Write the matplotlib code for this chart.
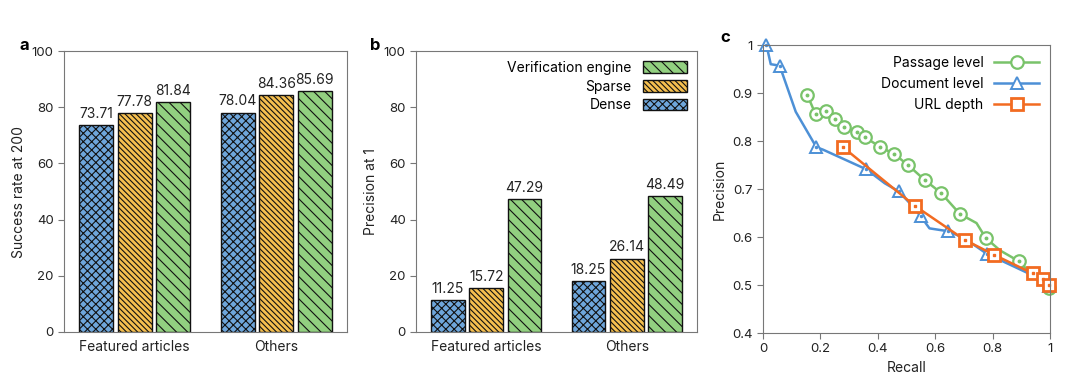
import numpy as np
import matplotlib.pyplot as plt
import matplotlib as mpl

plt.rcParams['font.family'] = ['Inter', 'DejaVu Sans']
plt.rcParams['hatch.linewidth'] = 0.8
plt.rcParams['hatch.color'] = '#222222'

# data
groups = ["Featured articles", "Others"]
methods = ["Dense", "Sparse", "Verification engine"]
success_200 = {"Dense": [73.71, 78.04], "Sparse": [77.78, 84.36], "Verification engine": [81.84, 85.69]}
precision_1 = {"Dense": [11.25, 18.25], "Sparse": [15.72, 26.14], "Verification engine": [47.29, 48.49]}

passage_recall = [0.155, 0.183, 0.219, 0.25, 0.283, 0.326, 0.355, 0.407, 0.457, 0.505, 0.565, 0.62, 0.686, 0.744, 0.776, 0.826, 0.893, 0.948, 0.998]
passage_prec = [0.895, 0.856, 0.863, 0.845, 0.830, 0.818, 0.808, 0.788, 0.773, 0.750, 0.718, 0.692, 0.648, 0.629, 0.598, 0.572, 0.549, 0.514, 0.494]
passage_marks = [0, 1, 2, 3, 4, 5, 6, 7, 8, 9, 10, 11, 12, 14, 16, 18]

doc_recall = [0.012, 0.027, 0.058, 0.114, 0.186, 0.209, 0.36, 0.424, 0.473, 0.523, 0.55, 0.58, 0.645, 0.70, 0.78, 0.94, 0.998]
doc_prec = [1.0, 0.96, 0.957, 0.861, 0.787, 0.782, 0.741, 0.712, 0.695, 0.663, 0.643, 0.618, 0.612, 0.598, 0.565, 0.52, 0.497]
doc_marks = [0, 2, 4, 6, 8, 10, 12, 14, 16]

url_recall = [0.279, 0.529, 0.703, 0.805, 0.94, 0.977, 0.998]
url_prec = [0.787, 0.665, 0.594, 0.563, 0.524, 0.512, 0.499]

colors = {"Dense": "#6ea6db", "Sparse": "#f5bf4f", "Verification engine": "#92d080"}
hatches = {"Dense": "xxxx", "Sparse": "\\\\\\\\\\\\", "Verification engine": "\\\\\\"}

fig = plt.figure(figsize=(10.8, 3.78), dpi=100)
ax_a = fig.add_axes([64/1080, 1-332/378, 283/1080, 281/378])
ax_b = fig.add_axes([416/1080, 1-332/378, 281/1080, 281/378])
ax_c = fig.add_axes([763/1080, 1-333/378, 287/1080, 288/378])

x = np.arange(len(groups))
w = 0.24
step = 0.273


def bar_panel(ax, data, ylabel):
    for i, m in enumerate(methods):
        vals = data[m]
        bars = ax.bar(x + (i - 1) * step, vals, width=w, color=colors[m],
                      edgecolor='#111111', linewidth=1.0, hatch=hatches[m], label=m)
        for b, v in zip(bars, vals):
            ax.text(b.get_x() + b.get_width() / 2, v + 1.5, "%.2f" % v,
                    ha='center', va='bottom', fontsize=10, color='#222222')
    ax.set_xlim(-0.5, 1.5)
    ax.set_ylim(0, 100)
    ax.set_yticks([0, 20, 40, 60, 80, 100])
    ax.set_xticks(x)
    ax.set_xticklabels(groups)
    ax.tick_params(axis='x', length=0, labelsize=10, pad=6, colors='#222222')
    ax.tick_params(axis='y', labelsize=9.5, colors='#222222', length=4, color='#777777')
    ax.set_ylabel(ylabel, fontsize=10, color='#222222')
    for s in ax.spines.values():
        s.set_color('#777777')


bar_panel(ax_a, success_200, "Success rate at 200")
bar_panel(ax_b, precision_1, "Precision at 1")
h, l = ax_b.get_legend_handles_labels()
ax_b.legend(h[::-1], l[::-1], loc='upper right', frameon=False, markerfirst=False,
            fontsize=10, handlelength=3.2, handleheight=0.9, labelspacing=0.35,
            borderaxespad=0.3)

# panel c
green = "#79c36a"
blue = "#4d90d6"
orange = "#f26b21"
ax_c.plot(passage_recall, passage_prec, color=green, lw=1.8, marker='o', ms=9,
          mfc='white', mec=green, mew=1.6, markevery=passage_marks, label="Passage level",
          clip_on=False)
ax_c.plot(np.array(passage_recall)[passage_marks], np.array(passage_prec)[passage_marks],
          ls='none', marker='o', ms=1.8, color=green, clip_on=False)
ax_c.plot(doc_recall, doc_prec, color=blue, lw=1.8, marker='^', ms=9,
          mfc='white', mec=blue, mew=1.4, markevery=doc_marks, label="Document level",
          clip_on=False)
ax_c.plot(np.array(doc_recall)[doc_marks], np.array(doc_prec)[doc_marks],
          ls='none', marker='o', ms=1.5, color=blue, clip_on=False)
ax_c.plot(url_recall, url_prec, color=orange, lw=1.8, marker='s', ms=9,
          mfc='white', mec=orange, mew=2.0, label="URL depth", clip_on=False)
ax_c.plot(url_recall, url_prec, ls='none', marker='s', ms=1.8, color=orange, clip_on=False)
ax_c.set_xlim(0, 1)
ax_c.set_ylim(0.4, 1)
ax_c.set_xticks([0, 0.2, 0.4, 0.6, 0.8, 1])
ax_c.set_xticklabels(["0", "0.2", "0.4", "0.6", "0.8", "1"])
ax_c.set_yticks([0.4, 0.5, 0.6, 0.7, 0.8, 0.9, 1])
ax_c.set_yticklabels(["0.4", "0.5", "0.6", "0.7", "0.8", "0.9", "1"])
ax_c.tick_params(labelsize=9.5, colors='#222222', length=4, color='#777777')
ax_c.set_xlabel("Recall", fontsize=10, color='#222222')
ax_c.set_ylabel("Precision", fontsize=10, color='#222222')
for s in ax_c.spines.values():
    s.set_color('#777777')
ax_c.legend(loc='upper right', frameon=False, markerfirst=False, fontsize=10,
            handlelength=3.2, labelspacing=0.5, borderaxespad=0.4)

fig.text(20/1080, 1-45/378, "a", fontsize=12, fontweight='bold', va='center')
fig.text(370/1080, 1-45/378, "b", fontsize=12, fontweight='bold', va='center')
fig.text(720/1080, 1-38/378, "c", fontsize=12, fontweight='bold', va='center')

fig.savefig("out.png", dpi=100)
